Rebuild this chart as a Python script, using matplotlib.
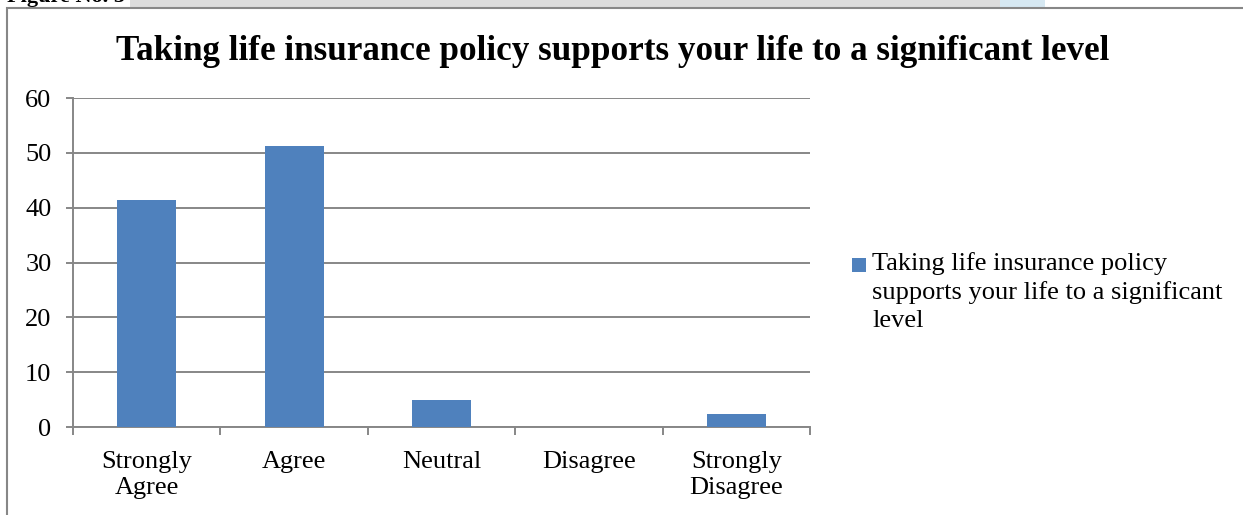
import numpy as np
import matplotlib.pyplot as plt
from matplotlib.patches import Rectangle

plt.rcParams['font.family'] = ['Liberation Serif', 'DejaVu Serif']

categories = ['Strongly\nAgree', 'Agree', 'Neutral', 'Disagree', 'Strongly\nDisagree']
percent = [41.46, 51.22, 4.88, 0.0, 2.44]
series_name = 'Taking life insurance policy\nsupports your life to a significant\nlevel'
title = 'Taking life insurance policy supports your life to a significant level'

bar_color = '#4f81bd'
grid_color = '#878787'

W, H = 1243, 515
fig = plt.figure(figsize=(W / 100, H / 100), dpi=100)

# strip of the page above the chart box
fig.patches.append(Rectangle((130 / W, 1 - 8 / H), 870 / W, 8 / H, transform=fig.transFigure,
                             facecolor='#dcdcdc', edgecolor='none', zorder=-2))
fig.patches.append(Rectangle((1000 / W, 1 - 8 / H), 45 / W, 8 / H, transform=fig.transFigure,
                             facecolor='#d6e8f2', edgecolor='none', zorder=-2))
fig.text(7 / W, 1 - 2 / H, 'Figure No. 5', fontsize=16, fontweight='bold', va='baseline', ha='left')

# chart box, runs off the right and bottom edges
fig.patches.append(Rectangle((7 / W, -0.05), 1.1, 1 - 8 / H + 0.05, transform=fig.transFigure,
                             facecolor='white', edgecolor=grid_color, linewidth=1.5, zorder=-1))

ax = fig.add_axes([73 / W, (H - 427) / H, (810 - 73) / W, (427 - 98) / H])
ax.set_facecolor('none')
x = np.arange(len(categories))
ax.bar(x, percent, width=0.4, color=bar_color, zorder=3)

ax.set_xlim(-0.5, len(categories) - 0.5)
ax.set_ylim(0, 60)
ax.set_yticks(np.arange(0, 61, 10))
ax.yaxis.grid(True, color=grid_color, linewidth=1.4)
ax.set_axisbelow(True)

for s in ['top', 'right']:
    ax.spines[s].set_visible(False)
for s in ['left', 'bottom']:
    ax.spines[s].set_color(grid_color)
    ax.spines[s].set_linewidth(1.4)

ax.set_xticks(x)
ax.set_xticklabels(categories, fontsize=19, linespacing=1.25)
ax.set_xticks(np.arange(-0.5, len(categories)), minor=True)
ax.tick_params(axis='x', which='major', length=0, pad=17)
ax.tick_params(axis='x', which='minor', length=5.5, width=1.4, color=grid_color, direction='out')
ax.tick_params(axis='y', length=5, width=1.4, color=grid_color, direction='out', labelsize=19, pad=10.5)

fig.text(613 / W, 1 - 52 / H, title, fontsize=25.3, fontweight='bold', ha='center', va='center')

# legend: swatch beside the first line of the series name
fig.patches.append(Rectangle((852 / W, 1 - 272 / H), 14 / W, 14 / H, transform=fig.transFigure,
                             facecolor=bar_color, edgecolor='none'))
fig.text(872 / W, 1 - 252 / H, series_name, fontsize=19, linespacing=1.35,
         ha='left', va='top', multialignment='left')

fig.savefig('out.png', dpi=100)
